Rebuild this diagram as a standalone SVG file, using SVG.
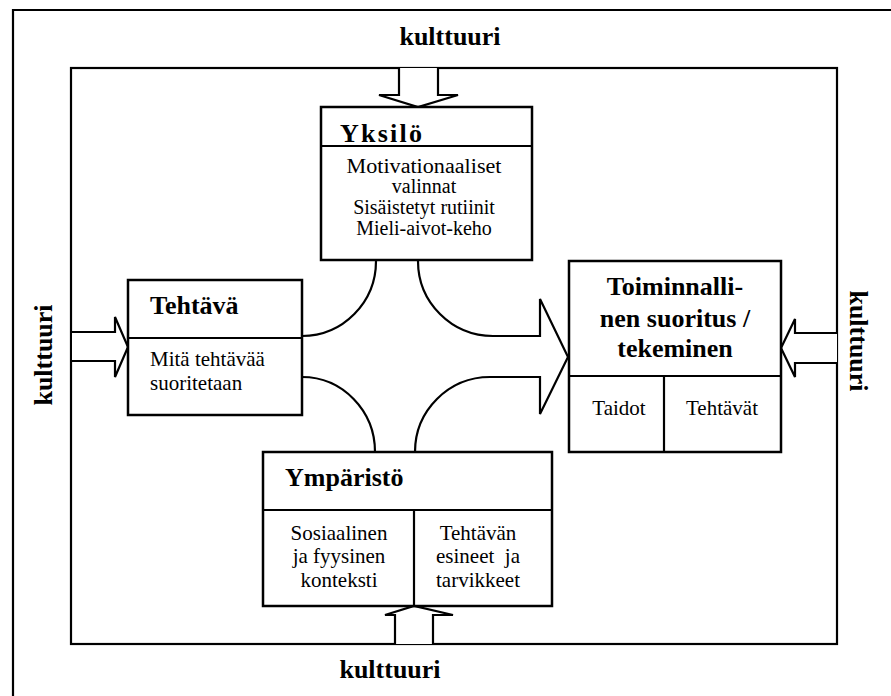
<svg xmlns="http://www.w3.org/2000/svg" width="891" height="696" viewBox="0 0 891 696">
<style>
.box{fill:#fff;stroke:#000;stroke-width:2.5}
.ln{fill:none;stroke:#000;stroke-width:2.2}
.arr{fill:#fff;stroke:#000;stroke-width:2.2;stroke-linejoin:miter}
.h{font-family:"Liberation Serif","Times New Roman",serif;font-weight:bold;font-size:26px;fill:#000}
.t{font-family:"Liberation Serif","Times New Roman",serif;font-size:21px;fill:#000}
.s{font-size:20px}
.m{text-anchor:middle}
</style>
<rect width="891" height="696" fill="#fff"/>
<g id="frame">
<path class="ln" d="M13,696 V10 H891" stroke-width="2.5"/>
<rect class="ln" x="71" y="68" width="766" height="576"/>
</g>
<g id="kulttuuri-labels">
<text class="h m" x="450" y="45">kulttuuri</text>
<text class="h m" x="390" y="678">kulttuuri</text>
<text class="h m" transform="translate(52,355) rotate(-90)">kulttuuri</text>
<text class="h m" transform="translate(850,341) rotate(90)">kulttuuri</text>
</g>
<g id="connectors">
<path class="arr" d="M399,68 V95 H379 L418,107 L458,95 H438 V68"/>
<path class="arr" d="M395,644 V615 H385 L414,606 L453,615 H433 V644"/>
<path class="arr" d="M72,332 H115 V317 L128,347 L115,377 V361 H72"/>
<path class="arr" d="M837,333 H795 V319 L781,348 L795,377 V363 H837"/>
<path class="ln" d="M376,261 A74,75 0 0 1 302,336"/>
<path class="ln" d="M302,377 A73,75 0 0 1 375,452"/>
<path class="arr" d="M418,261 A75,75 0 0 0 493,336 H540 V299 L568,357 L540,414 V377 H490 A75,75 0 0 0 415,452"/>
</g>
<g id="yksilo">
<rect class="box" x="321" y="107" width="211" height="153"/>
<line class="ln" x1="321" y1="146" x2="532" y2="146"/>
<text class="h" x="340" y="142" textLength="82" lengthAdjust="spacing">Yksilö</text>
<text class="t s m" x="424" y="173" textLength="155" lengthAdjust="spacingAndGlyphs">Motivationaaliset</text>
<text class="t s m" x="424" y="193">valinnat</text>
<text class="t s m" x="424" y="214">Sisäistetyt rutiinit</text>
<text class="t s m" x="424" y="235">Mieli-aivot-keho</text>
</g>
<g id="tehtava">
<rect class="box" x="128" y="280" width="174" height="135"/>
<line class="ln" x1="128" y1="338" x2="302" y2="338"/>
<text class="h" x="150" y="314">Tehtävä</text>
<text class="t" x="150" y="366">Mitä tehtävää</text>
<text class="t" x="150" y="390">suoritetaan</text>
</g>
<g id="toiminnallinen">
<rect class="box" x="569" y="261" width="212" height="191"/>
<line class="ln" x1="569" y1="376" x2="781" y2="376"/>
<line class="ln" x1="664" y1="376" x2="664" y2="452"/>
<text class="h m" x="675" y="295">Toiminnalli-</text>
<text class="h m" x="675" y="327">nen suoritus /</text>
<text class="h m" x="675" y="357">tekeminen</text>
<text class="t m" x="619" y="415">Taidot</text>
<text class="t m" x="722" y="415">Tehtävät</text>
</g>
<g id="ymparisto">
<rect class="box" x="263" y="452" width="289" height="154"/>
<line class="ln" x1="263" y1="510" x2="552" y2="510"/>
<line class="ln" x1="414" y1="510" x2="414" y2="606"/>
<text class="h" x="285" y="486">Ympäristö</text>
<text class="t m" x="339" y="540">Sosiaalinen</text>
<text class="t m" x="339" y="563">ja fyysinen</text>
<text class="t m" x="339" y="587">konteksti</text>
<text class="t m" x="478" y="540">Tehtävän</text>
<text class="t m" x="478" y="563" xml:space="preserve">esineet  ja</text>
<text class="t m" x="478" y="587">tarvikkeet</text>
</g>
</svg>
